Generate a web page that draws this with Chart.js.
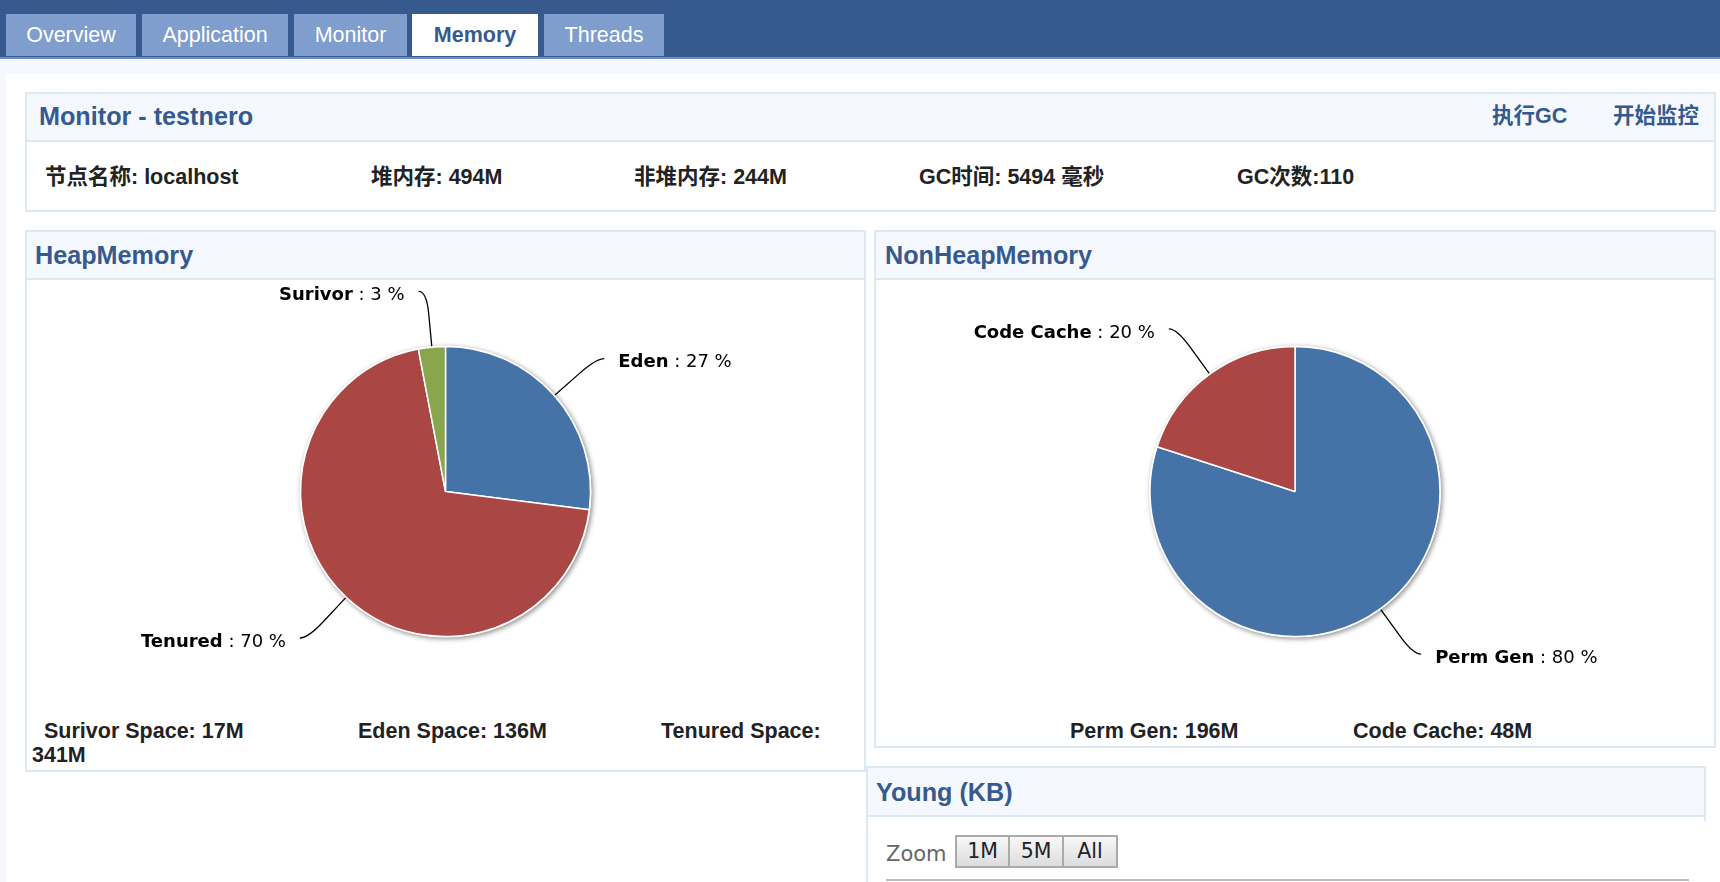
<!DOCTYPE html>
<html>
<head>
<meta charset="utf-8">
<title>Memory</title>
<script src="https://cdn.jsdelivr.net/npm/chart.js@4/dist/chart.umd.min.js"></script>
<style>
  html, body { margin: 0; padding: 0; width: 1720px; height: 882px; overflow: hidden; background: #fff; }
  body { position: relative; font-family: "Liberation Sans", "Noto Sans CJK SC", sans-serif; font-size: 21.5px; color: #222; }
  .abs, .tab, .panel, .txt, .head, canvas, .btn { position: absolute; }
  #topbar { left: 0; top: 0; width: 1720px; height: 57px; background: #375a8e; border-bottom: 2px solid #6f8fbd; box-sizing: content-box; }
  #strip { left: 0; top: 59px; width: 1720px; height: 15px; background: #f5f9ff; }
  #strip2 { left: 0; top: 59px; width: 6px; height: 823px; background: #f5f9ff; }
  .tab { top: 14px; height: 42px; line-height: 42px; background: #7f9dcd; color: #fff; text-align: center; font-size: 21.5px; }
  .tab.on { background: #fff; color: #375a8e; font-weight: bold; }
  .panel { box-sizing: border-box; border: 2px solid #dce8f2; background: #fff; }
  .head { left: 0; top: 0; right: 0; box-sizing: border-box; background: #f5f9ff; border-bottom: 2px solid #dce8f2; }
  .title { position: absolute; top: 50%; transform: translateY(-50%); white-space: nowrap; font-weight: bold; font-size: 25.2px; color: #375a8e; }
  .txt { white-space: nowrap; font-weight: bold; transform: translateY(-50%); line-height: 1; }
  .link { color: #375a8e; font-size: 21.5px; }
  .btn { top: 835px; height: 33px; box-sizing: border-box; border: 2px solid #aaa; background: linear-gradient(#f8f8f8, #dcdcdc); text-align: center; font: 20.5px/29px "DejaVu Sans", sans-serif; color: #222; }
</style>
</head>
<body>
<div class="abs" id="topbar"></div>
<div class="abs" id="strip"></div>
<div class="abs" id="strip2"></div>

<div class="tab" style="left:6px;width:130px">Overview</div>
<div class="tab" style="left:142px;width:146px">Application</div>
<div class="tab" style="left:294px;width:113px">Monitor</div>
<div class="tab on" style="left:412px;width:126px">Memory</div>
<div class="tab" style="left:544px;width:120px">Threads</div>

<div class="panel" style="left:25px;top:92px;width:1691px;height:120px">
  <div class="head" style="height:48px"><span class="title" style="left:12px;margin-top:-1px">Monitor - testnero</span></div>
</div>
<div class="txt link" style="left:1492px;top:117px">执行GC</div>
<div class="txt link" style="left:1613px;top:117px">开始监控</div>
<div id="infoRow"></div>

<div class="panel" style="left:25px;top:230px;width:841px;height:542px">
  <div class="head" style="height:48px"><span class="title" style="left:8px">HeapMemory</span></div>
</div>
<div class="panel" style="left:874px;top:230px;width:842px;height:518px">
  <div class="head" style="height:48px"><span class="title" style="left:9px">NonHeapMemory</span></div>
</div>
<div class="panel" style="left:866px;top:766px;width:840px;height:130px">
  <div class="head" style="height:49px"><span class="title" style="left:8px">Young (KB)</span></div>
</div>
<div class="abs" style="left:1700px;top:821px;width:8px;height:61px;background:#fff"></div>

<canvas id="heapChart" style="left:27px;top:281px"></canvas>
<canvas id="nonHeapChart" style="left:876px;top:281px"></canvas>
<div id="footRow"></div>

<div class="txt" style="left:886px;top:854px;font:21px 'DejaVu Sans',sans-serif;color:#666">Zoom</div>
<div class="btn" style="left:955px;width:55px">1M</div>
<div class="btn" style="left:1008px;width:56px">5M</div>
<div class="btn" style="left:1062px;width:56px">All</div>
<div class="abs" style="left:886px;top:879px;width:803px;height:2px;background:#bbb"></div>

<script>
// datos
const heapLabels = ["Eden", "Tenured", "Surivor"];
const heapValues = [27, 70, 3];
const heapColors = ["#4572A7", "#AA4643", "#89A54E"];

const nonHeapLabels = ["Perm Gen", "Code Cache"];
const nonHeapValues = [80, 20];
const nonHeapColors = ["#4572A7", "#AA4643"];

const infoTexts = ["节点名称: localhost", "堆内存: 494M", "非堆内存: 244M", "GC时间: 5494 毫秒", "GC次数:110"];
const infoLeft = [45, 371, 634, 919, 1237];
const footTexts = ["Surivor Space: 17M", "Eden Space: 136M", "Tenured Space:", "341M", "Perm Gen: 196M", "Code Cache: 48M"];
const footLeft = [44, 358, 661, 32, 1070, 1353];
const footTop = [732, 732, 732, 756, 732, 732];

infoTexts.forEach((t, i) => {
  const d = document.createElement("div");
  d.className = "txt";
  d.textContent = t;
  d.style.left = infoLeft[i] + "px";
  d.style.top = "178px";
  document.getElementById("infoRow").appendChild(d);
});
footTexts.forEach((t, i) => {
  const d = document.createElement("div");
  d.className = "txt";
  d.textContent = t;
  d.style.left = footLeft[i] + "px";
  d.style.top = footTop[i] + "px";
  document.getElementById("footRow").appendChild(d);
});

// sombra del pie y etiquetas con conector, sacadas de los arcos
const pieExtras = {
  id: "pieExtras",
  beforeDatasetsDraw(chart) {
    const ctx = chart.ctx;
    const arc = chart.getDatasetMeta(0).data[0];
    ctx.save();
    ctx.shadowColor = "rgba(0,0,0,0.45)";
    ctx.shadowBlur = 5;
    ctx.shadowOffsetX = 1.5;
    ctx.shadowOffsetY = 1.5;
    ctx.fillStyle = "#fff";
    ctx.beginPath();
    ctx.arc(arc.x, arc.y, arc.outerRadius + 1, 0, Math.PI * 2);
    ctx.fill();
    ctx.restore();
  },
  afterDatasetsDraw(chart) {
    const ctx = chart.ctx;
    const values = chart.data.datasets[0].data;
    chart.getDatasetMeta(0).data.forEach((arc, i) => {
      const a = (arc.startAngle + arc.endAngle) / 2;
      const cos = Math.cos(a), sin = Math.sin(a);
      const side = cos >= 0 ? 1 : -1;
      const x0 = arc.x + cos * (arc.outerRadius + 1);
      const y0 = arc.y + sin * (arc.outerRadius + 1);
      const xr = arc.x + cos * (arc.outerRadius + 56);
      const y1 = arc.y + sin * (arc.outerRadius + 56);
      const x1 = xr + side * 8;
      ctx.save();
      ctx.strokeStyle = "#000";
      ctx.lineWidth = 1.3;
      ctx.beginPath();
      ctx.moveTo(x0, y0);
      ctx.lineTo(x0 + (xr - x0) * 0.6, y0 + (y1 - y0) * 0.6);
      ctx.quadraticCurveTo(xr, y1, x1, y1);
      ctx.stroke();

      const name = chart.data.labels[i];
      const rest = " : " + values[i] + " %";
      ctx.textBaseline = "middle";
      ctx.fillStyle = "#000";
      ctx.font = "bold 18px 'DejaVu Sans', sans-serif";
      const w1 = ctx.measureText(name).width;
      ctx.font = "18px 'DejaVu Sans', sans-serif";
      const w2 = ctx.measureText(rest).width;
      const left = side > 0 ? x1 + 14 : x1 - 14 - w1 - w2;
      ctx.font = "bold 18px 'DejaVu Sans', sans-serif";
      ctx.fillText(name, left, y1 + 4);
      ctx.font = "18px 'DejaVu Sans', sans-serif";
      ctx.fillText(rest, left + w1, y1 + 4);
      ctx.restore();
    });
  }
};

function crearPie(id, w, h, labels, values, colors) {
  const canvas = document.getElementById(id);
  canvas.style.width = w + "px";
  canvas.style.height = h + "px";
  canvas.width = w;
  canvas.height = h;
  return new Chart(canvas, {
    type: "pie",
    data: {
      labels: labels,
      datasets: [{
        data: values,
        backgroundColor: colors,
        borderColor: "#fff",
        borderWidth: 1.5,
        radius: 145
      }]
    },
    options: {
      responsive: false,
      animation: false,
      plugins: { legend: { display: false }, tooltip: { enabled: false } }
    },
    plugins: [pieExtras]
  });
}

crearPie("heapChart", 837, 421, heapLabels, heapValues, heapColors);
crearPie("nonHeapChart", 838, 421, nonHeapLabels, nonHeapValues, nonHeapColors);
</script>
</body>
</html>
